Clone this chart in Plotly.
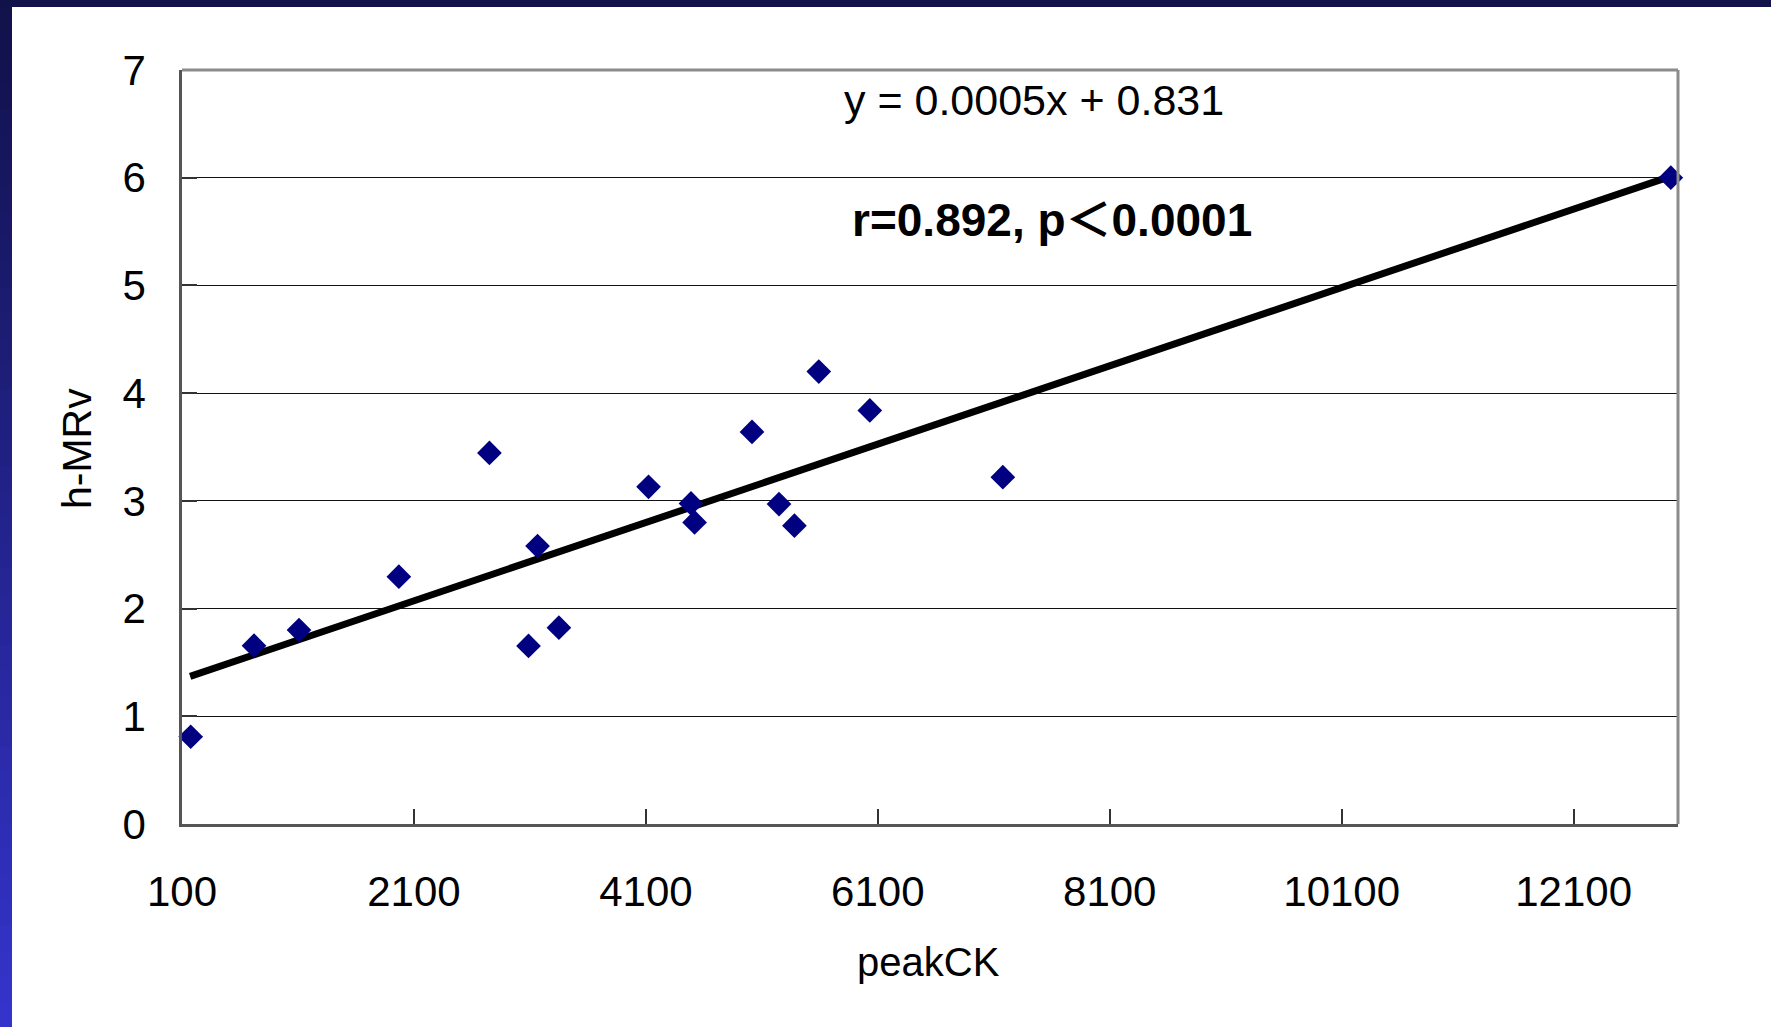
import plotly.graph_objects as go

# ---- data ----
peak_ck = [175, 721, 1109, 1970, 2751, 3088, 3166, 3350, 4123, 4489, 4520,
           5015, 5248, 5381, 5591, 6031, 7178, 12938]
h_mrv = [0.81, 1.656, 1.80, 2.296, 3.445, 1.653, 2.58, 1.823, 3.13, 2.976, 2.80,
         3.64, 2.97, 2.77, 4.20, 3.84, 3.22, 6.00]
trend_x = [170, 12930]
trend_y = [1.37, 6.01]
x_ticks = [100, 2100, 4100, 6100, 8100, 10100, 12100]
x_tick_labels = ["100", "2100", "4100", "6100", "8100", "10100", "12100"]
y_ticks = [0, 1, 2, 3, 4, 5, 6, 7]
eq_text = "y = 0.0005x + 0.831"
stat_text = "<b>r=0.892, p＜0.0001</b>"
x_title = "peakCK"
y_title = "h-MRv"

W, H = 1771, 1027
L, R, T, B = 182, 93, 70, 203
pw, ph = W - L - R, H - T - B

def px(x):
    return (x - L) / pw

def py(y):
    return (H - B - y) / ph

FONT = "Liberation Sans, Arial, Noto Sans CJK JP, sans-serif"

fig = go.Figure()
fig.add_trace(go.Scatter(x=trend_x, y=trend_y, mode="lines",
                         line=dict(color="black", width=7), hoverinfo="skip"))
fig.add_trace(go.Scatter(x=peak_ck, y=h_mrv, mode="markers",
                         marker=dict(symbol="diamond", size=19, color="#000080",
                                     line=dict(width=0)), cliponaxis=False))

shapes = []
# top dark bar
shapes.append(dict(type="rect", xref="paper", yref="paper", x0=px(0), x1=px(W),
                   y0=py(7), y1=py(0), fillcolor="#12124a", line=dict(width=0), layer="below"))
# left gradient bar
n = 40
c0 = (0x12, 0x12, 0x4c)
c1 = (0x34, 0x34, 0xcc)
for i in range(n):
    t = i / (n - 1)
    col = "rgb(%d,%d,%d)" % tuple(int(c0[k] + (c1[k] - c0[k]) * t) for k in range(3))
    shapes.append(dict(type="rect", xref="paper", yref="paper", x0=px(0), x1=px(12),
                       y0=py(7 + (H - 7) * (i + 1) / n + 1), y1=py(7 + (H - 7) * i / n),
                       fillcolor=col, line=dict(width=0), layer="below"))
# frame top & right (gray)
shapes.append(dict(type="line", xref="paper", yref="paper", x0=0, x1=1, y0=1, y1=1,
                   line=dict(color="#8c8c8c", width=3)))
shapes.append(dict(type="line", xref="paper", yref="paper", x0=1, x1=1, y0=0, y1=1,
                   line=dict(color="#8c8c8c", width=3)))

def ann(text, cx, cy, size, angle=0):
    return dict(text=text, x=px(cx), y=py(cy), xref="paper", yref="paper",
                xanchor="center", yanchor="middle", textangle=angle,
                showarrow=False, font=dict(size=size, color="black", family=FONT))

annotations = [
    ann(eq_text, 1034, 100, 43),
    ann(stat_text, 1052, 220, 46),
    ann(x_title, 928, 962, 40),
    ann(y_title, 77, 449, 41, -90),
]

fig.update_layout(
    width=W, height=H,
    margin=dict(l=L, r=R, t=T, b=B, autoexpand=False),
    paper_bgcolor="white", plot_bgcolor="white",
    showlegend=False,
    shapes=shapes, annotations=annotations,
    font=dict(family=FONT, color="black"),
    xaxis=dict(range=[100, 13000], tickvals=x_ticks, ticktext=x_tick_labels,
               ticks="inside", ticklen=15,
               tickcolor="#333", tickwidth=1.5, showgrid=False, zeroline=False,
               showline=True, linecolor="#555", linewidth=2.5,
               tickfont=dict(size=42, color="black"), ticklabelstandoff=29),
    yaxis=dict(range=[0, 7], tickvals=y_ticks, ticks="inside", ticklen=15,
               tickcolor="#333", tickwidth=1.5, showgrid=True, gridcolor="#111",
               gridwidth=1.3, zeroline=False, showline=True, linecolor="#555",
               linewidth=2.5, tickfont=dict(size=42, color="black"),
               ticklabelstandoff=25),
)

fig.write_html("out.html")
